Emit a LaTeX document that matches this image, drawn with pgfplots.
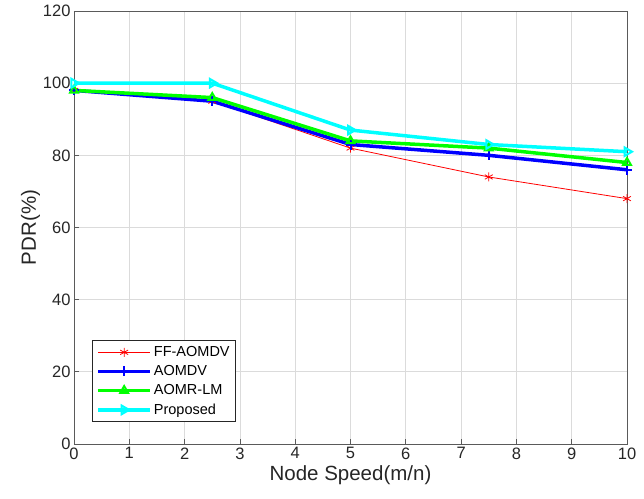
\documentclass[border=0pt]{standalone}
\usepackage{pgfplots}
\pgfplotsset{compat=1.18}
\usepackage{fontspec}
\setmainfont{Liberation Sans}
\definecolor{mred}{RGB}{255,0,0}
\definecolor{mblue}{RGB}{0,0,255}
\definecolor{mgreen}{RGB}{0,255,0}
\definecolor{mcyan}{RGB}{0,255,255}
\definecolor{axgray}{RGB}{90,90,90}
\definecolor{txgray}{RGB}{38,38,38}
\begin{document}
\begin{tikzpicture}
\begin{axis}[
  scale only axis,
  width=553pt, height=433pt,
  xmin=0, xmax=10, ymin=0, ymax=120,
  xtick={0,1,...,10}, ytick={0,20,...,120},
  /pgf/number format/assume math mode=true,
  tick label style={font=\fontsize{16.5}{20}\selectfont, text=txgray},
  label style={font=\fontsize{20.5}{24}\selectfont, text=txgray},
  xlabel={Node Speed(m/n)}, ylabel={PDR(\%)},
  ylabel style={yshift=-4pt},
  grid=major, major grid style={black!14, line width=0.7pt},
  axis line style={axgray, line width=0.9pt},
  tick style={axgray, line width=0.7pt},
  tick align=inside, major tick length=5pt,
  xtick pos=bottom, ytick pos=left,
  legend style={at={(0.0325,0.05)}, anchor=south west,
    font=\fontsize{14.5}{17}\selectfont, draw=black!85, line width=0.9pt,
    row sep=3.5pt, inner xsep=4pt, inner ysep=4pt},
  legend cell align=left,
  legend image code/.code={
    \draw[#1] (0pt,0pt) -- (52pt,0pt);
    \draw[#1, only marks] plot coordinates {(26pt,0pt)};
  },
]
\addplot[mred, line width=0.8pt, mark=asterisk, mark size=4.5pt, mark options={mred, line width=0.8pt}]
  coordinates {(0,98) (2.5,95) (5,82) (7.5,74) (10,68)};
\addlegendentry{FF-AOMDV\hspace{29pt}}
\addplot[mblue, line width=3.5pt, mark=+, mark size=5pt, mark options={mblue, line width=2pt}]
  coordinates {(0,98) (2.5,95) (5,83) (7.5,80) (10,76)};
\addlegendentry{AOMDV}
\addplot[mgreen, line width=3.5pt, mark=triangle, mark size=4.5pt, mark options={mgreen, line width=2pt}]
  coordinates {(0,98) (2.5,96) (5,84) (7.5,82) (10,78)};
\addlegendentry{AOMR-LM}
\addplot[mcyan, line width=3.5pt, mark=triangle, mark size=5pt, mark options={mcyan, line width=2pt, rotate=-90}]
  coordinates {(0,100) (2.5,100) (5,87) (7.5,83) (10,81)};
\addlegendentry{Proposed}
\end{axis}
% white margin around the plot
\path (current axis.south west) ++(-74pt,-55pt) (current axis.north east) ++(17pt,11pt);
\end{tikzpicture}
\end{document}
